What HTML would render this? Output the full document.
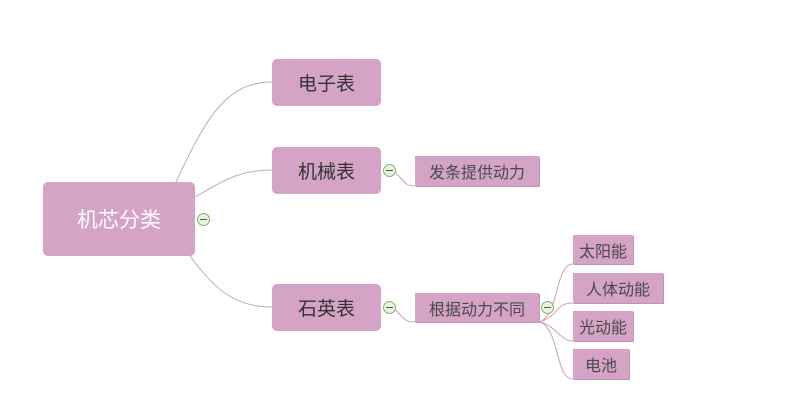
<!DOCTYPE html>
<html><head><meta charset="utf-8"><style>
body{margin:0;width:790px;height:411px;background:#fff;position:relative;overflow:hidden;font-family:"Liberation Sans","Noto Sans CJK SC",sans-serif}
.n{position:absolute;background:#d5a3c5;display:flex;align-items:center;justify-content:center;color:#333}
.m{border-radius:5px;font-size:19px}
.s{font-size:16px;color:#4a4a4a;box-shadow:1px 1px 0 #c493b3}
.c{position:absolute;width:11px;height:11px;border:1px solid #7bb36a;border-radius:50%;background:#e6f5dc}
.c:after{content:"";position:absolute;left:2px;right:2px;top:5px;height:1px;background:#555}
svg{position:absolute;left:0;top:0}
</style></head><body>
<svg width="790" height="411" fill="none" stroke="#caa3b6" stroke-width="1">
<path d="M175 184 C205 120,225 82,272 82"/>
<path d="M195 197 C225 180,240 170,272 170"/>
<path d="M190 256 C215 290,235 307,272 307"/>
<path d="M395 172 C405 182,405 186,415 186 L539 186"/>
<path d="M395 309 C405 320,405 322,415 322 L539 322"/>
<path d="M540 322 C560 312,555 264,573 264 L633 264"/>
<path d="M540 322 C560 315,555 303,573 303 L663 303"/>
<path d="M540 322 C555 325,560 341,573 341 L633 341"/>
<path d="M540 322 C560 330,555 379,573 379 L629 379"/>
</svg>
<div class="n m" style="left:43px;top:182px;width:152px;height:74px;color:#fff;font-size:21px">机芯分类</div>
<div class="n m" style="left:272px;top:59px;width:109px;height:47px">电子表</div>
<div class="n m" style="left:272px;top:147px;width:109px;height:47px">机械表</div>
<div class="n m" style="left:272px;top:284px;width:109px;height:47px">石英表</div>
<div class="n s" style="left:415px;top:156px;width:124px;height:30px">发条提供动力</div>
<div class="n s" style="left:415px;top:293px;width:124px;height:29px">根据动力不同</div>
<div class="n s" style="left:573px;top:235px;width:60px;height:29px">太阳能</div>
<div class="n s" style="left:573px;top:273px;width:90px;height:30px">人体动能</div>
<div class="n s" style="left:573px;top:311px;width:60px;height:30px">光动能</div>
<div class="n s" style="left:573px;top:349px;width:56px;height:30px">电池</div>
<div class="c" style="left:197px;top:213px"></div>
<div class="c" style="left:383px;top:164px"></div>
<div class="c" style="left:383px;top:301px"></div>
<div class="c" style="left:541px;top:301px"></div>
</body></html>
